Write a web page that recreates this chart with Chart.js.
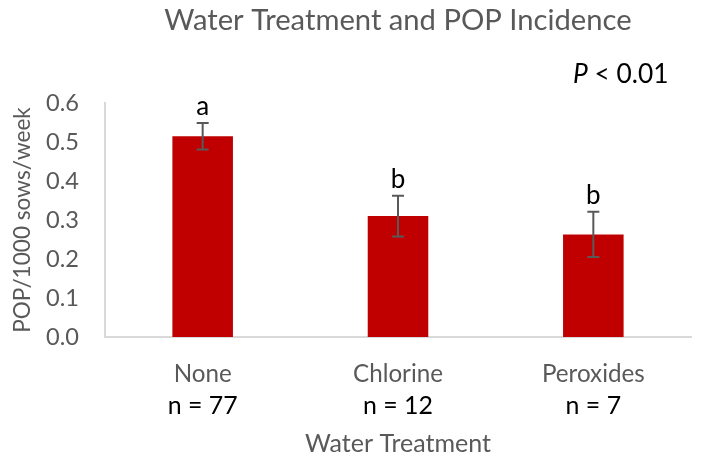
<!DOCTYPE html>
<html>
<head>
<meta charset="utf-8">
<script src="https://cdn.jsdelivr.net/npm/chart.js@4/dist/chart.umd.min.js"></script>
<style>
  html, body { margin: 0; padding: 0; background: #ffffff; }
  #wrap { width: 702px; height: 466px; position: relative; }
</style>
</head>
<body>
<div id="wrap"><canvas id="c" width="702" height="466"></canvas></div>
<script>
const chartTitle = 'Water Treatment and POP Incidence';
const categories = ['None', 'Chlorine', 'Peroxides'];
const sampleSizes = ['n = 77', 'n = 12', 'n = 7'];
const incidence = [0.515, 0.310, 0.263];
const errorBars = [0.034, 0.052, 0.058];
const groupLetters = ['a', 'b', 'b'];
const yTicks = [0, 0.1, 0.2, 0.3, 0.4, 0.5, 0.6];

const FONT = 'Lato, "Open Sans", sans-serif';
const GRAY = '#595959';

// pick font sizes so the text widths match the reference
const mctx = document.createElement('canvas').getContext('2d');
function fit(text, width, style) {
  mctx.font = (style || '') + ' 100px ' + FONT;
  return Math.round(1000 * width / mctx.measureText(text).width) / 10;
}
const SZ_TITLE = fit(chartTitle, 467);
const SZ_TICK = fit('0.6', 33);
const SZ_CAT = fit('Chlorine', 90);
const SZ_N = fit('n = 77', 70);
const SZ_XT = fit('Water Treatment', 186);
const SZ_YT = fit('POP/1000 sows/week', 226);
const SZ_P = fit('< 0.01', 74);
const SZ_LET = 26;

const annotPlugin = {
  id: 'annot',
  afterDatasetsDraw(chart) {
    const ctx = chart.ctx;
    const x = chart.scales.x, y = chart.scales.y;
    const area = chart.chartArea;
    ctx.save();
    // chart title centred over the plot area
    ctx.fillStyle = GRAY;
    ctx.font = SZ_TITLE + 'px ' + FONT;
    ctx.textAlign = 'center';
    ctx.textBaseline = 'middle';
    ctx.fillText(chartTitle, (area.left + area.right) / 2, 21);

    ctx.strokeStyle = '#595959';
    ctx.lineWidth = 2;
    incidence.forEach((v, i) => {
      const cx = x.getPixelForValue(i);
      const yt = y.getPixelForValue(v + errorBars[i]);
      const yb = y.getPixelForValue(v - errorBars[i]);
      ctx.beginPath();
      ctx.moveTo(cx, yt); ctx.lineTo(cx, yb);
      ctx.moveTo(cx - 6, yt); ctx.lineTo(cx + 6, yt);
      ctx.moveTo(cx - 6, yb); ctx.lineTo(cx + 6, yb);
      ctx.stroke();
      ctx.fillStyle = '#000000';
      ctx.font = SZ_LET + 'px ' + FONT;
      ctx.textAlign = 'center';
      ctx.textBaseline = 'alphabetic';
      ctx.fillText(groupLetters[i], cx, yt - 7.5);
      ctx.font = SZ_N + 'px ' + FONT;
      ctx.textBaseline = 'middle';
      ctx.fillText(sampleSizes[i], cx, 406);
    });
    ctx.textBaseline = 'middle';
    ctx.textAlign = 'left';
    ctx.fillStyle = '#000000';
    const startX = 573;
    ctx.font = 'italic ' + SZ_P + 'px ' + FONT;
    const pw = ctx.measureText('P').width;
    ctx.fillText('P', startX, 75);
    ctx.font = SZ_P + 'px ' + FONT;
    ctx.fillText(' < 0.01', startX + pw, 75);
    ctx.restore();
  }
};

new Chart(document.getElementById('c'), {
  type: 'bar',
  data: {
    labels: categories,
    datasets: [{
      data: incidence,
      backgroundColor: '#c00000',
      borderWidth: 0,
      barPercentage: 0.31,
      categoryPercentage: 1.0
    }]
  },
  options: {
    responsive: false,
    animation: false,
    devicePixelRatio: 1,
    layout: { padding: { left: 0, right: 11, top: 0, bottom: 0 } },
    plugins: {
      legend: { display: false },
      tooltip: { enabled: false },
      title: {
        // reserves the header band; the visible title is drawn by the plugin
        display: true,
        text: ' ',
        font: { family: FONT, size: 20, lineHeight: 1.2 },
        padding: { top: 6, bottom: 103 - 6 - 24 }
      }
    },
    scales: {
      x: {
        grid: { display: false, drawTicks: false },
        border: { display: true, color: '#d9d9d9', width: 2 },
        ticks: { color: GRAY, font: { family: FONT, size: SZ_CAT }, padding: 23 },
        title: {
          display: true,
          text: 'Water Treatment',
          color: GRAY,
          font: { family: FONT, size: SZ_XT },
          padding: { top: 0, bottom: 7 }
        },
        afterFit(s) { s.height = 129; }
      },
      y: {
        min: 0, max: 0.6,
        afterBuildTicks(s) { s.ticks = yTicks.map(v => ({ value: v })); },
        grid: { display: false, drawTicks: false },
        border: { display: true, color: '#d9d9d9', width: 2 },
        ticks: {
          color: GRAY,
          font: { family: FONT, size: SZ_TICK },
          padding: 26,
          callback: v => Number(v).toFixed(1)
        },
        title: {
          display: true,
          text: 'POP/1000 sows/week',
          color: GRAY,
          font: { family: FONT, size: SZ_YT },
          padding: { top: 9, bottom: 0 }
        },
        afterFit(s) { s.width = 105; }
      }
    }
  },
  plugins: [annotPlugin]
});
</script>
</body>
</html>
